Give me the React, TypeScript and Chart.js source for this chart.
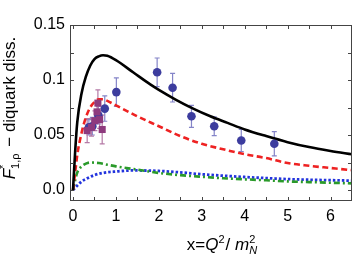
import React, { useEffect, useRef } from "react";
import { Chart, registerables } from "chart.js";

Chart.register(...registerables);

// ---- data ----
const blackX = [0, 0.05, 0.1, 0.2, 0.3, 0.4, 0.5, 0.6, 0.7, 0.8, 1.0, 1.4, 1.8, 2.0, 2.4, 2.8, 3.2, 3.6, 4.0, 4.5, 5.0, 5.5, 6.0, 6.5];
const blackY = [0, 0.035, 0.062, 0.088, 0.103, 0.113, 0.119, 0.1215, 0.1225, 0.122, 0.118, 0.107, 0.096, 0.091, 0.082, 0.074, 0.067, 0.061, 0.055, 0.049, 0.0435, 0.039, 0.0355, 0.0325];

const redX = [0, 0.05, 0.1, 0.2, 0.3, 0.4, 0.5, 0.6, 0.7, 0.8, 1.0, 1.5, 2.0, 2.5, 3.0, 3.5, 4.0, 4.5, 5.0, 5.5, 6.0, 6.5];
const redY = [0, 0.016, 0.032, 0.052, 0.066, 0.075, 0.08, 0.0825, 0.0825, 0.081, 0.077, 0.067, 0.058, 0.049, 0.042, 0.037, 0.0325, 0.029, 0.0245, 0.022, 0.02, 0.018];

const greenX = [0, 0.05, 0.1, 0.2, 0.3, 0.4, 0.6, 0.8, 1.0, 1.5, 2.0, 2.5, 3.0, 3.5, 4.0, 4.5, 5.0, 5.5, 6.0, 6.5];
const greenY = [0, 0.009, 0.016, 0.0215, 0.024, 0.025, 0.0245, 0.023, 0.0215, 0.0185, 0.0155, 0.0135, 0.012, 0.0107, 0.0097, 0.0088, 0.0078, 0.0072, 0.0066, 0.006];

const blueX = [0, 0.1, 0.2, 0.3, 0.5, 0.7, 1.0, 1.4, 2.0, 2.5, 3.0, 3.5, 4.0, 4.5, 5.0, 5.5, 6.0, 6.5];
const blueY = [0, 0.004, 0.0077, 0.01, 0.0135, 0.0155, 0.0168, 0.0178, 0.0173, 0.016, 0.0143, 0.013, 0.0118, 0.0108, 0.0099, 0.0093, 0.0089, 0.0085];

const circX = [0.37, 0.45, 0.59, 0.74, 1.01, 1.96, 2.32, 2.76, 3.29, 3.92, 4.69];
const circY = [0.057, 0.058, 0.068, 0.074, 0.089, 0.107, 0.093, 0.067, 0.058, 0.045, 0.042];
const circErr = [0.007, 0.008, 0.008, 0.0115, 0.013, 0.013, 0.013, 0.01, 0.0085, 0.01, 0.011];

const sqX = [0.33, 0.43, 0.51, 0.56, 0.58, 0.62, 0.68];
const sqY = [0.054, 0.057, 0.063, 0.071, 0.079, 0.064, 0.055];
const sqErr = [0.011, 0.008, 0.009, 0.009, 0.012, 0.008, 0.013];

const xTickLabels = [0, 1, 2, 3, 4, 5, 6];
const yTickLabels = [0, 0.05, 0.1, 0.15];
const xMinorTicks = [0, 0.5, 1, 1.5, 2, 2.5, 3, 3.5, 4, 4.5, 5, 5.5, 6];
const yMinorTicks = [0, 0.025, 0.05, 0.075, 0.1, 0.125];

const pts = (xs: number[], ys: number[]) => xs.map((x, i) => ({ x, y: ys[i] }));

const FONT = "'Liberation Sans', Arial, Helvetica, sans-serif";

const decorPlugin = {
  id: "decor",
  beforeDatasetsDraw(chart: any) {
    const { ctx, scales } = chart;
    const xs = scales.x, ys = scales.y;
    const drawErr = (X: number[], Y: number[], E: number[], color: string) => {
      ctx.save();
      ctx.strokeStyle = color;
      ctx.lineWidth = 1.2;
      X.forEach((x, i) => {
        const px = xs.getPixelForValue(x);
        const t = ys.getPixelForValue(Y[i] + E[i]);
        const b = ys.getPixelForValue(Y[i] - E[i]);
        ctx.beginPath();
        ctx.moveTo(px, t); ctx.lineTo(px, b);
        ctx.moveTo(px - 2.5, t); ctx.lineTo(px + 2.5, t);
        ctx.moveTo(px - 2.5, b); ctx.lineTo(px + 2.5, b);
        ctx.stroke();
      });
      ctx.restore();
    };
    drawErr(circX, circY, circErr, "#8484c8");
    drawErr(sqX, sqY, sqErr, "#b57aa6");
  },
  afterDraw(chart: any) {
    const { ctx, chartArea: a, scales } = chart;
    const xs = scales.x, ys = scales.y;
    ctx.save();
    ctx.strokeStyle = "#444";
    ctx.lineWidth = 1;
    ctx.strokeRect(a.left + 0.5, a.top + 0.5, a.right - a.left - 1, a.bottom - a.top - 1);
    ctx.beginPath();
    const L = 4;
    xMinorTicks.forEach((v) => {
      const p = Math.round(xs.getPixelForValue(v)) + 0.5;
      ctx.moveTo(p, a.bottom); ctx.lineTo(p, a.bottom - L);
      ctx.moveTo(p, a.top); ctx.lineTo(p, a.top + L);
    });
    yMinorTicks.forEach((v) => {
      const p = Math.round(ys.getPixelForValue(v)) + 0.5;
      ctx.moveTo(a.left, p); ctx.lineTo(a.left + L, p);
      ctx.moveTo(a.right, p); ctx.lineTo(a.right - L, p);
    });
    ctx.stroke();
    ctx.restore();

    const drawPieces = (pieces: any[], cx: number, cy: number) => {
      let total = 0;
      const widths = pieces.map((p) => {
        if (p.stack) {
          const w = Math.max(
            ...p.stack.map((s: any) => {
              ctx.font = `${s.italic ? "italic " : ""}${s.size}px ${FONT}`;
              return ctx.measureText(s.text).width;
            })
          );
          total += w + (p.gap || 0);
          return w + (p.gap || 0);
        }
        ctx.font = `${p.italic ? "italic " : ""}${p.size}px ${FONT}`;
        const w = ctx.measureText(p.text).width + (p.gap || 0);
        total += w;
        return w;
      });
      let x = cx - total / 2;
      ctx.fillStyle = "#000";
      ctx.textBaseline = "alphabetic";
      ctx.textAlign = "left";
      pieces.forEach((p, i) => {
        const items = p.stack ? p.stack : [p];
        items.forEach((s: any) => {
          ctx.font = `${s.italic ? "italic " : ""}${s.size}px ${FONT}`;
          ctx.fillText(s.text, x, cy + (s.dy || 0));
        });
        x += widths[i];
      });
    };

    ctx.save();
    drawPieces(
      [
        { text: "x=", size: 17 },
        { text: "Q", size: 17, italic: true },
        { text: "2", size: 11, dy: -7, gap: 1 },
        { text: "/ ", size: 17 },
        { text: "m", size: 17, italic: true },
        { stack: [
          { text: "2", size: 11, dy: -7 },
          { text: "N", size: 11, italic: true, dy: 4 },
        ] },
      ],
      222,
      250
    );
    ctx.restore();

    ctx.save();
    ctx.translate(15, 108);
    ctx.rotate(-Math.PI / 2);
    drawPieces(
      [
        { text: "F", size: 17, italic: true },
        { stack: [
          { text: "*", size: 11, dy: -8 },
          { text: "1,ρ", size: 11, dy: 4 },
        ], gap: 2 },
        { text: " − diquark diss.", size: 17 },
      ],
      0,
      0
    );
    ctx.restore();
  },
};

export default function App() {
  const ref = useRef<HTMLCanvasElement>(null);
  useEffect(() => {
    if (!ref.current) return;
    const lineDs = (label: string, xs: number[], ys: number[], color: string, dash: number[], width: number) => ({
      type: "line" as const,
      label,
      data: pts(xs, ys),
      borderColor: color,
      borderWidth: width,
      borderDash: dash,
      pointRadius: 0,
      fill: false,
      cubicInterpolationMode: "monotone" as const,
      order: 5,
    });
    const chart = new Chart(ref.current, {
      type: "scatter",
      data: {
        datasets: [
          {
            label: "squares",
            data: pts(sqX, sqY),
            pointStyle: "rect",
            pointRadius: 5,
            backgroundColor: "#8e3a7e",
            borderColor: "#8e3a7e",
            borderWidth: 0,
            order: 1,
          } as any,
          {
            label: "circles",
            data: pts(circX, circY),
            pointStyle: "circle",
            pointRadius: 4.3,
            backgroundColor: "#3c3c9e",
            borderColor: "#3c3c9e",
            borderWidth: 0,
            order: 2,
          } as any,
          lineDs("black", blackX, blackY, "#000000", [], 2.6),
          lineDs("red", redX, redY, "#ee2222", [6, 3.5], 2.6),
          lineDs("green", greenX, greenY, "#2a9a2a", [6, 3, 2, 3], 2.6),
          lineDs("blue", blueX, blueY, "#2233dd", [2.5, 2], 2.8),
        ],
      },
      options: {
        animation: false,
        responsive: false,
        layout: { padding: { top: 25, right: 2, left: 0, bottom: 0 } },
        plugins: { legend: { display: false }, tooltip: { enabled: false } },
        scales: {
          x: {
            type: "linear",
            min: -0.07,
            max: 6.5,
            grid: { display: false, drawTicks: false },
            border: { display: false },
            afterBuildTicks: (axis: any) => {
              axis.ticks = xTickLabels.map((v) => ({ value: v }));
            },
            afterFit: (axis: any) => {
              axis.height = 55;
            },
            ticks: {
              padding: 6,
              color: "#000",
              font: { family: FONT, size: 16 },
              maxRotation: 0,
              callback: (v: any) => String(v),
            },
          },
          y: {
            type: "linear",
            min: -0.01,
            max: 0.15,
            grid: { display: false, drawTicks: false },
            border: { display: false },
            afterBuildTicks: (axis: any) => {
              axis.ticks = yTickLabels.map((v) => ({ value: v }));
            },
            afterFit: (axis: any) => {
              axis.width = 70;
            },
            ticks: {
              padding: 5,
              color: "#000",
              font: { family: FONT, size: 16 },
              callback: (v: any) => (v === 0 ? "0.0" : String(v)),
            },
          },
        },
      },
      plugins: [decorPlugin],
    });
    return () => chart.destroy();
  }, []);
  return (
    <div style={{ position: "fixed", left: 0, top: 0, width: 357, height: 256, background: "#fff" }}>
      <canvas ref={ref} width={357} height={256} style={{ width: 357, height: 256 }} />
    </div>
  );
}
